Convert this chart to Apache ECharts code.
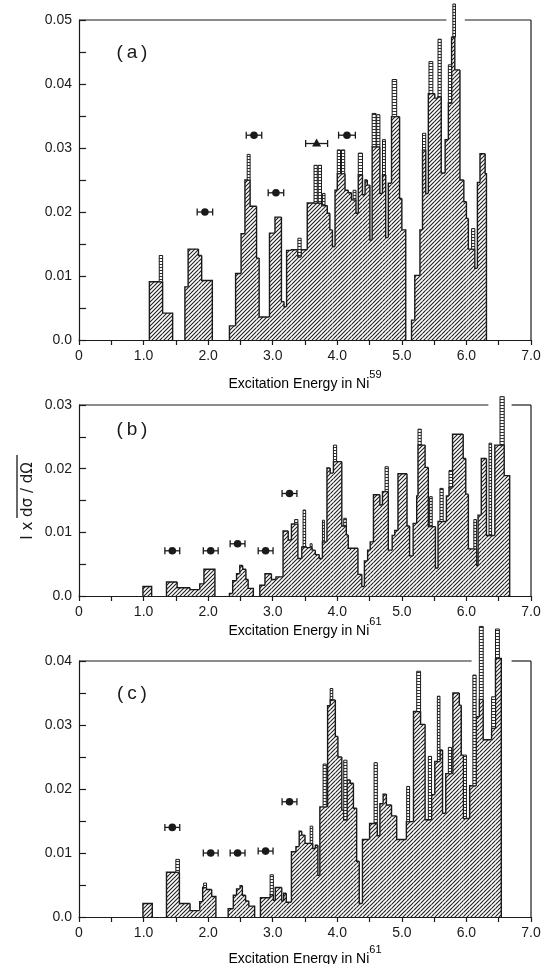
<!DOCTYPE html>
<html><head><meta charset="utf-8">
<script src="https://cdn.jsdelivr.net/npm/echarts/dist/echarts.min.js"></script>
<style>html,body{margin:0;padding:0;background:#fff}#c{width:547px;height:964px}</style>
</head><body><div id="c"></div>
<script>
// ---------------- DATA ----------------
// histogram bins: [E start, E end, value]
const histA = [
[1.09,1.295,0.0091],[1.295,1.45,0.0042],
[1.64,1.69,0.0083],[1.69,1.85,0.0142],[1.85,1.90,0.0132],[1.90,2.065,0.0093],
[2.33,2.425,0.0022],[2.425,2.51,0.0104],[2.51,2.57,0.0166],[2.57,2.65,0.025],[2.65,2.75,0.0209],[2.75,2.79,0.0128],[2.79,2.95,0.0036],[2.95,3.035,0.0167],[3.035,3.135,0.0192],[3.135,3.175,0.006],[3.175,3.215,0.0052],[3.215,3.29,0.014],[3.29,3.39,0.0141],[3.39,3.44,0.013],[3.44,3.535,0.0141],[3.535,3.76,0.0214],[3.76,3.845,0.021],[3.845,3.885,0.0198],[3.885,3.925,0.0172],[3.925,3.965,0.0146],[3.965,4.0,0.0234],[4.0,4.12,0.026],[4.12,4.17,0.0234],[4.17,4.22,0.023],[4.22,4.29,0.0219],[4.29,4.325,0.0198],[4.325,4.39,0.0258],[4.39,4.43,0.0227],[4.43,4.465,0.025],[4.465,4.505,0.0242],[4.505,4.54,0.0156],[4.54,4.66,0.0302],[4.66,4.70,0.0229],[4.70,4.75,0.0258],[4.75,4.79,0.016],[4.79,4.84,0.0245],[4.84,4.965,0.0349],[4.965,5.0,0.0221],[5.0,5.06,0.0172],
[5.15,5.20,0.0031],[5.20,5.28,0.0101],[5.28,5.32,0.0172],[5.32,5.37,0.0297],[5.37,5.41,0.0229],[5.41,5.51,0.0385],[5.51,5.56,0.0378],[5.56,5.61,0.038],[5.61,5.67,0.0261],[5.67,5.72,0.0313],[5.72,5.77,0.037],[5.77,5.82,0.0473],[5.82,5.90,0.0422],[5.90,5.96,0.025],[5.96,6.0,0.0216],[6.0,6.03,0.019],[6.03,6.13,0.0142],[6.13,6.17,0.0112],[6.17,6.21,0.0246],[6.21,6.29,0.0291],[6.29,6.31,0.026]
];
// narrow single-level columns: [E start, E end, bottom, top]
const spikesA = [
[1.243,1.295,0.0091,0.0132],[2.605,2.65,0.025,0.029],[3.39,3.44,0.013,0.0159],
[3.64,3.69,0.0214,0.0273],[3.705,3.755,0.0214,0.0273],[3.77,3.81,0.021,0.0229],
[4.0,4.05,0.026,0.0297],[4.065,4.115,0.026,0.0297],[4.245,4.29,0.0219,0.0234],
[4.325,4.39,0.0258,0.0292],[4.54,4.60,0.0302,0.0354],[4.61,4.66,0.0302,0.0352],
[4.70,4.745,0.0258,0.0313],[4.85,4.92,0.0349,0.0407],[5.32,5.37,0.0297,0.0323],
[5.42,5.48,0.0385,0.0435],[5.56,5.61,0.038,0.047],[5.72,5.77,0.037,0.043],
[5.79,5.83,0.0473,0.0525],[6.08,6.13,0.0142,0.0174]
];
// measured points: [E, value, E error, shape(0 circle,1 triangle)]
const pointsA = [[1.95,0.020,0.12,0],[2.71,0.032,0.12,0],[3.05,0.023,0.12,0],[3.68,0.0307,0.17,1],[4.15,0.032,0.13,0]];

const histB = [
[0.99,1.125,0.0015],
[1.355,1.52,0.0022],[1.52,1.72,0.0013],[1.72,1.87,0.0010],[1.87,1.935,0.0019],[1.935,2.105,0.0042],
[2.33,2.38,0.0004],[2.38,2.44,0.0024],[2.44,2.49,0.0035],[2.49,2.535,0.0048],[2.535,2.585,0.0042],[2.585,2.62,0.0026],[2.62,2.70,0.0012],
[2.80,2.88,0.0017],[2.88,2.98,0.0035],[2.98,3.05,0.0026],[3.05,3.16,0.003],[3.16,3.24,0.0102],[3.24,3.29,0.0088],[3.29,3.39,0.0113],[3.39,3.45,0.0059],[3.45,3.53,0.0077],[3.53,3.61,0.0076],[3.61,3.66,0.0072],[3.66,3.72,0.0065],[3.72,3.77,0.0059],[3.77,3.84,0.0085],[3.84,3.89,0.0201],[3.89,3.94,0.0193],[3.94,4.07,0.0211],[4.07,4.14,0.011],[4.14,4.17,0.0096],[4.17,4.32,0.0075],[4.32,4.38,0.0034],[4.38,4.42,0.0015],[4.42,4.47,0.0055],[4.47,4.51,0.0072],[4.51,4.56,0.0085],[4.56,4.66,0.0159],[4.66,4.70,0.0143],[4.70,4.79,0.0164],[4.79,4.85,0.0072],[4.85,4.89,0.0095],[4.89,4.94,0.0103],[4.94,5.08,0.0192],[5.08,5.12,0.011],[5.12,5.175,0.0063],[5.175,5.23,0.0114],[5.23,5.25,0.0157],[5.25,5.36,0.0237],[5.36,5.41,0.0202],[5.41,5.52,0.0109],[5.52,5.56,0.0044],[5.56,5.69,0.0117],[5.69,5.73,0.0157],[5.73,5.785,0.017],[5.785,5.95,0.0254],[5.95,5.99,0.0216],[5.99,6.03,0.016],[6.03,6.16,0.0074],[6.16,6.18,0.0048],[6.18,6.23,0.0127],[6.23,6.31,0.0216],[6.31,6.44,0.0095],[6.44,6.585,0.0237],[6.585,6.67,0.0189]
];
const spikesB = [
[3.34,3.39,0.0113,0.012],[3.47,3.51,0.0077,0.0135],[3.58,3.61,0.0076,0.0082],[3.77,3.80,0.0085,0.0119],
[3.94,3.99,0.0211,0.0237],[4.10,4.14,0.011,0.0122],[4.74,4.79,0.0164,0.0203],[5.25,5.30,0.0237,0.0262],
[5.43,5.47,0.0109,0.0156],[5.59,5.64,0.0117,0.0169],[5.73,5.785,0.017,0.0197],[6.115,6.155,0.0074,0.012],
[6.35,6.39,0.0095,0.024],[6.52,6.585,0.0237,0.0313]
];
const pointsB = [[1.445,0.0071,0.115,0],[2.04,0.0071,0.115,0],[2.456,0.0082,0.115,0],[2.89,0.0071,0.115,0],[3.26,0.0161,0.115,0]];

const histC = [
[0.99,1.135,0.0021],
[1.355,1.555,0.007],[1.555,1.72,0.0021],[1.72,1.87,0.001],[1.87,1.915,0.0024],[1.915,1.975,0.0046],[1.975,2.055,0.0043],[2.055,2.12,0.0032],
[2.31,2.39,0.0013],[2.39,2.44,0.0034],[2.44,2.495,0.0044],[2.495,2.53,0.0049],[2.53,2.58,0.0034],[2.58,2.63,0.0025],[2.63,2.72,0.0017],
[2.81,2.96,0.003],[2.96,3.01,0.0035],[3.01,3.04,0.0026],[3.04,3.14,0.0046],[3.14,3.17,0.0025],[3.17,3.21,0.0037],[3.21,3.29,0.0023],[3.29,3.36,0.0102],[3.36,3.41,0.011],[3.41,3.45,0.0134],[3.45,3.50,0.0128],[3.50,3.62,0.0115],[3.62,3.66,0.0107],[3.66,3.70,0.0112],[3.70,3.73,0.0065],[3.73,3.85,0.0172],[3.85,3.89,0.033],[3.89,3.97,0.0339],[3.97,4.01,0.0282],[4.01,4.07,0.025],[4.07,4.10,0.0167],[4.10,4.15,0.0152],[4.15,4.20,0.0214],[4.20,4.25,0.0209],[4.25,4.30,0.017],[4.30,4.34,0.0087],[4.34,4.39,0.0021],[4.39,4.50,0.0121],[4.50,4.62,0.0146],[4.62,4.66,0.0127],[4.66,4.71,0.0177],[4.71,4.76,0.0192],[4.76,4.84,0.0175],[4.84,4.92,0.0158],[4.92,5.07,0.0121],[5.07,5.18,0.0149],[5.18,5.29,0.0321],[5.29,5.36,0.0301],[5.36,5.46,0.0152],[5.46,5.51,0.0191],[5.51,5.59,0.0243],[5.59,5.63,0.0261],[5.63,5.68,0.0162],[5.68,5.79,0.0224],[5.79,5.89,0.035],[5.89,5.92,0.0331],[5.92,5.955,0.0253],[5.955,6.05,0.0154],[6.05,6.15,0.0205],[6.15,6.20,0.0313],[6.20,6.26,0.034],[6.26,6.39,0.0277],[6.39,6.45,0.0295],[6.45,6.54,0.0404]
];
const spikesC = [
[1.50,1.555,0.007,0.009],[1.93,1.975,0.0046,0.0053],[2.96,3.01,0.0035,0.0066],[3.58,3.62,0.0115,0.0142],
[3.78,3.83,0.0172,0.0239],[3.89,3.93,0.0339,0.0357],[4.10,4.15,0.0152,0.0245],[4.57,4.62,0.0146,0.0241],
[5.075,5.12,0.0149,0.0204],[5.23,5.29,0.0321,0.0384],[5.41,5.46,0.0152,0.0251],[5.55,5.59,0.0243,0.0345],
[5.72,5.77,0.0224,0.0265],[5.955,6.0,0.0154,0.0253],[6.10,6.15,0.0205,0.0378],[6.20,6.26,0.034,0.0454],
[6.39,6.45,0.0295,0.0344],[6.45,6.51,0.0404,0.045]
];
const pointsC = [[1.445,0.014,0.115,0],[2.04,0.010,0.115,0],[2.456,0.010,0.115,0],[2.89,0.0103,0.115,0],[3.26,0.018,0.115,0]];

const yMaxes = [0.05, 0.03, 0.04];
const panelLabels = ['(\u2009a\u2009)', '(\u2009b\u2009)', '(\u2009c\u2009)'];
const isotopes = ['59', '61', '61'];
const topGaps = [[5.69, 5.975], [6.34, 6.70], [6.08, 6.70]];
const xLabelValues = [0, 1, 2, 3, 4, 5, 6, 7];

// ---------------- STYLE ----------------
const INK = '#1a1a1a';
const FONT = 'Liberation Sans';
function makeHatch() {
  const c = document.createElement('canvas'); c.width = 4; c.height = 4;
  const g = c.getContext('2d');
  g.fillStyle = '#fff'; g.fillRect(0, 0, 4, 4);
  g.strokeStyle = '#1e1e1e'; g.lineWidth = 1.1;
  g.beginPath();
  g.moveTo(-1, 5); g.lineTo(5, -1);
  g.moveTo(-1, 1); g.lineTo(1, -1);
  g.moveTo(3, 5); g.lineTo(5, 3);
  g.stroke();
  return c;
}
function makeLadder() {
  const c = document.createElement('canvas'); c.width = 4; c.height = 3;
  const g = c.getContext('2d');
  g.fillStyle = '#fff'; g.fillRect(0, 0, 4, 3);
  g.fillStyle = '#333'; g.fillRect(0, 0, 4, 1);
  return c;
}
const hatch = { image: makeHatch(), repeat: 'repeat' };
const ladder = { image: makeLadder(), repeat: 'repeat' };

const grids = [
  { left: 79, top: 20, width: 452, height: 320 },
  { left: 79, top: 405, width: 452, height: 191 },
  { left: 79, top: 661, width: 452, height: 256 }
];

function histSeries(bins, gi) {
  return {
    type: 'custom', xAxisIndex: gi, yAxisIndex: gi, clip: false, z: 2,
    data: bins, encode: { x: [0, 1], y: 2 },
    renderItem: function (params, api) {
      const i = params.dataIndex;
      const x0 = api.value(0), x1 = api.value(1), y = api.value(2);
      const p0 = api.coord([x0, y]), p1 = api.coord([x1, 0]);
      const prev = bins[i - 1], next = bins[i + 1];
      const contPrev = prev && Math.abs(prev[1] - x0) < 1e-6;
      const contNext = next && Math.abs(next[0] - x1) < 1e-6;
      const startY = contPrev ? api.coord([x0, prev[2]])[1] : p1[1];
      const endY = contNext ? p0[1] : p1[1];
      return {
        type: 'group', children: [
          { type: 'rect', shape: { x: p0[0], y: p0[1], width: p1[0] - p0[0], height: p1[1] - p0[1] }, style: { fill: hatch } },
          { type: 'polyline', shape: { points: [[p0[0], startY], [p0[0], p0[1]], [p1[0], p0[1]], [p1[0], endY]] }, style: { stroke: INK, lineWidth: 1.4, fill: null } }
        ]
      };
    }
  };
}
function spikeSeries(sp, gi) {
  return {
    type: 'custom', xAxisIndex: gi, yAxisIndex: gi, clip: false, z: 3,
    data: sp, encode: { x: [0, 1], y: [2, 3] },
    renderItem: function (params, api) {
      const a = api.coord([api.value(0), api.value(3)]);
      const b = api.coord([api.value(1), api.value(2)]);
      return { type: 'rect', shape: { x: a[0], y: a[1], width: b[0] - a[0], height: b[1] - a[1] },
        style: { fill: ladder, stroke: INK, lineWidth: 1 } };
    }
  };
}
function pointSeries(pts, gi) {
  return {
    type: 'custom', xAxisIndex: gi, yAxisIndex: gi, clip: false, z: 4,
    data: pts, encode: { x: 0, y: 1 },
    renderItem: function (params, api) {
      const x = api.value(0), y = api.value(1), e = api.value(2), shp = api.value(3);
      const c = api.coord([x, y]), l = api.coord([x - e, y]), r = api.coord([x + e, y]);
      const st = { stroke: INK, lineWidth: 1.3 };
      const kids = [
        { type: 'line', shape: { x1: l[0], y1: l[1], x2: r[0], y2: r[1] }, style: st },
        { type: 'line', shape: { x1: l[0], y1: l[1] - 3.5, x2: l[0], y2: l[1] + 3.5 }, style: st },
        { type: 'line', shape: { x1: r[0], y1: r[1] - 3.5, x2: r[0], y2: r[1] + 3.5 }, style: st }
      ];
      if (shp === 1) {
        kids.push({ type: 'polygon', shape: { points: [[c[0], c[1] - 5], [c[0] - 4.5, c[1] + 3], [c[0] + 4.5, c[1] + 3]] }, style: { fill: INK } });
      } else {
        kids.push({ type: 'circle', shape: { cx: c[0], cy: c[1], r: 3.8 }, style: { fill: INK } });
      }
      return { type: 'group', children: kids };
    }
  };
}

const xAxes = grids.map((g, i) => ({
  type: 'value', gridIndex: i, min: 0, max: 7, interval: 0.5,
  axisLine: { show: true, onZero: false, lineStyle: { color: INK, width: 1.2 } },
  axisTick: { show: true, inside: false, length: 5, lineStyle: { color: INK, width: 1.2 } },
  splitLine: { show: false },
  axisLabel: {
    margin: 9, color: INK, fontFamily: FONT, fontSize: 14,
    formatter: v => (xLabelValues.indexOf(v) >= 0 ? (v === 0 ? '0' : v.toFixed(1)) : '')
  }
}));
const yAxes = grids.map((g, i) => ({
  type: 'value', gridIndex: i, min: 0, max: yMaxes[i], interval: 0.005,
  axisLine: { show: true, lineStyle: { color: INK, width: 1.2 } },
  axisTick: { show: true, inside: true, length: 7, lineStyle: { color: INK, width: 1.2 } },
  splitLine: { show: false },
  axisLabel: {
    margin: 7, color: INK, fontFamily: FONT, fontSize: 14,
    formatter: v => { const k = Math.round(v / 0.005); if (k % 2) return ''; return k === 0 ? '0.0' : v.toFixed(2); }
  }
}));

const series = [
  histSeries(histA, 0), spikeSeries(spikesA, 0), pointSeries(pointsA, 0),
  histSeries(histB, 1), spikeSeries(spikesB, 1), pointSeries(pointsB, 1),
  histSeries(histC, 2), spikeSeries(spikesC, 2), pointSeries(pointsC, 2)
];

const chart = echarts.init(document.getElementById('c'), null, { renderer: 'canvas' });
chart.setOption({
  animation: false,
  backgroundColor: '#fff',
  grid: grids,
  xAxis: xAxes,
  yAxis: yAxes,
  series: series
});

// frame (top with gap, right side), titles, labels
const gfx = [];
const titleY = [380, 627, 955];
const labelPos = [[132, 53], [132, 430], [132, 694]];
grids.forEach((g, i) => {
  const tl = chart.convertToPixel({ gridIndex: i }, [0, yMaxes[i]]);
  const br = chart.convertToPixel({ gridIndex: i }, [7, 0]);
  const ga = chart.convertToPixel({ gridIndex: i }, [topGaps[i][0], yMaxes[i]]);
  const gb = chart.convertToPixel({ gridIndex: i }, [topGaps[i][1], yMaxes[i]]);
  const ls = { stroke: INK, lineWidth: 1.2 };
  gfx.push({ type: 'line', z: 1, shape: { x1: tl[0], y1: tl[1], x2: ga[0], y2: tl[1] }, style: ls });
  gfx.push({ type: 'line', z: 1, shape: { x1: gb[0], y1: tl[1], x2: br[0], y2: tl[1] }, style: ls });
  gfx.push({ type: 'line', z: 1, shape: { x1: br[0], y1: tl[1], x2: br[0], y2: br[1] }, style: ls });
  gfx.push({ type: 'text', x: (tl[0] + br[0]) / 2, y: titleY[i], z: 5,
    style: { text: '{a|Excitation Energy in Ni}{s|' + isotopes[i] + '}', align: 'center', verticalAlign: 'middle',
      rich: { a: { fontFamily: FONT, fontSize: 14, color: INK, lineHeight: 22, verticalAlign: 'bottom' },
              s: { fontFamily: FONT, fontSize: 11, color: INK, verticalAlign: 'top', lineHeight: 12 } } } });
  gfx.push({ type: 'text', x: labelPos[i][0], y: labelPos[i][1], z: 5,
    style: { text: panelLabels[i], fontFamily: FONT, fontSize: 19, fill: INK, align: 'center', verticalAlign: 'middle' } });
});
gfx.push({ type: 'text', x: 28, y: 501, rotation: Math.PI / 2, z: 5,
  style: { text: 'I x dσ / dΩ', fontFamily: 'DejaVu Sans', fontSize: 15, fill: INK, align: 'center', verticalAlign: 'middle' } });
gfx.push({ type: 'line', z: 5, shape: { x1: 17, y1: 455, x2: 17, y2: 518 }, style: { stroke: INK, lineWidth: 1.3 } });
chart.setOption({ graphic: gfx });
</script></body></html>
